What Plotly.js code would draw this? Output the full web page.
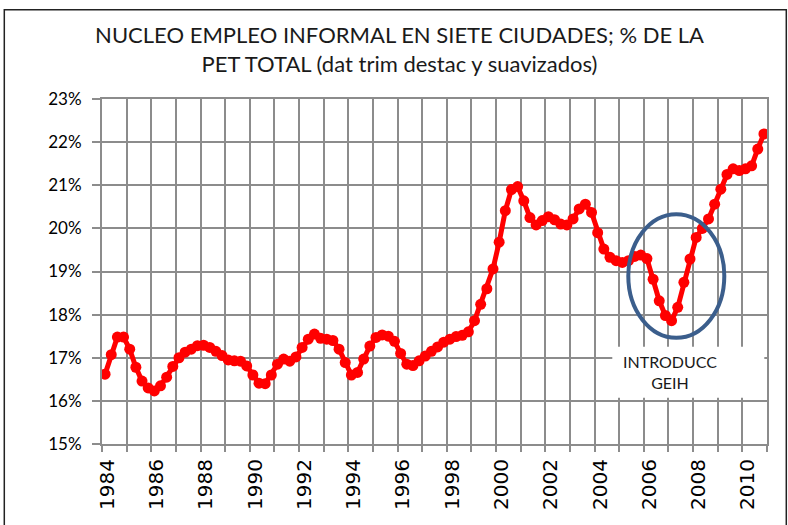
<!DOCTYPE html>
<html>
<head>
<meta charset="utf-8">
<script src="https://cdn.plot.ly/plotly-3.0.1.min.js"></script>
<style>html,body{margin:0;padding:0;background:#fff;}#chart{width:788px;height:525px;}</style>
</head>
<body>
<div id="chart"></div>
<script>
// Quarterly series, 1984Q1 .. 2010Q4 (% of PET)
const startYear = 1984;
const quartersPerYear = 4;
const informalShare = [
  16.62, 17.07, 17.48, 17.48,   // 1984
  17.20, 16.78, 16.46, 16.30,   // 1985
  16.23, 16.35, 16.55, 16.80,   // 1986
  17.00, 17.13, 17.20, 17.28,   // 1987
  17.29, 17.24, 17.15, 17.05,   // 1988
  16.95, 16.93, 16.92, 16.81,   // 1989
  16.60, 16.41, 16.40, 16.60,   // 1990
  16.85, 16.97, 16.92, 17.02,   // 1991
  17.24, 17.43, 17.55, 17.45,   // 1992
  17.43, 17.40, 17.20, 16.89,   // 1993
  16.60, 16.66, 16.97, 17.27,   // 1994
  17.47, 17.53, 17.50, 17.38,   // 1995
  17.10, 16.85, 16.82, 16.93,   // 1996
  17.04, 17.15, 17.25, 17.36,   // 1997
  17.43, 17.49, 17.52, 17.60,   // 1998
  17.86, 18.24, 18.60, 19.06,   // 1999
  19.68, 20.41, 20.90, 20.97,   // 2000
  20.64, 20.25, 20.08, 20.18,   // 2001
  20.27, 20.20, 20.10, 20.08,   // 2002
  20.22, 20.45, 20.56, 20.37,   // 2003
  19.90, 19.52, 19.33, 19.25,   // 2004
  19.21, 19.25, 19.35, 19.38,   // 2005
  19.30, 18.82, 18.32, 17.98,   // 2006
  17.86, 18.17, 18.75, 19.29,   // 2007
  19.79, 20.00, 20.22, 20.56,   // 2008
  20.91, 21.25, 21.38, 21.34,   // 2009
  21.38, 21.45, 21.84, 22.19    // 2010
];
const gridYears = [1984,1985,1986,1987,1988,1989,1990,1991,1992,1993,1994,1995,1996,1997,1998,1999,2000,2001,2002,2003,2004,2005,2006,2007,2008,2009,2010,2011];
const labelYears = [1984,1986,1988,1990,1992,1994,1996,1998,2000,2002,2004,2006,2008,2010];
const yTicks = [15,16,17,18,19,20,21,22,23];
const yTickText = ['15%','16%','17%','18%','19%','20%','21%','22%','23%'];
const titleText = 'NUCLEO EMPLEO INFORMAL EN SIETE CIUDADES; % DE LA<br>PET TOTAL (dat trim destac y suavizados)';
const noteText = 'INTRODUCC<br>GEIH';

// x position of each quarter: middle of the quarter on a year-scaled axis
const xq = informalShare.map((_, i) => startYear + (i + 0.5) / quartersPerYear);
const labelPos = labelYears.map(y => y + 0.22);
const labelText = labelYears.map(String);

const W = 788, H = 525;
const L = 101.7, R = 21.3, T = 98.5, B = 80.5;
const pw = W - L - R, ph = H - T - B;
const px2paperX = p => (p - L) / pw;
const px2paperY = p => (H - B - p) / ph;

const grid = '#8c8c8c';
const xRange = [1984, 2011];
const yRange = [15, 23];

const trace = {
  x: xq, y: informalShare, type: 'scatter', mode: 'lines+markers',
  line: {color: '#ff0000', width: 5},
  marker: {color: '#ff0000', size: 11},
  hoverinfo: 'skip', showlegend: false
};
// invisible helper trace that carries the tick labels on twin axes
const labelTrace = {
  x: [xRange[0]], y: [yRange[0]], xaxis: 'x2', yaxis: 'y2', type: 'scatter', mode: 'markers',
  marker: {opacity: 0}, hoverinfo: 'skip', showlegend: false
};

const layout = {
  width: W, height: H,
  margin: {l: L, r: R, t: T, b: B},
  paper_bgcolor: '#ffffff', plot_bgcolor: '#ffffff',
  title: {
    text: titleText,
    font: {family: 'Lato, "Open Sans", sans-serif', size: 22, color: '#1a1a1a'},
    x: 0.507, xanchor: 'center', y: 0.918, yanchor: 'top', yref: 'container'
  },
  xaxis: {
    type: 'linear', range: xRange,
    tickmode: 'array', tickvals: gridYears, showticklabels: false,
    showgrid: true, gridcolor: grid, gridwidth: 1.6,
    ticks: 'outside', ticklen: 6, tickcolor: grid, tickwidth: 1.6,
    showline: true, mirror: true, linecolor: grid, linewidth: 1.6,
    zeroline: false
  },
  xaxis2: {
    type: 'linear', range: xRange, overlaying: 'x', anchor: 'y2', side: 'bottom',
    tickmode: 'array', tickvals: labelPos, ticktext: labelText, tickangle: -90,
    showgrid: false, zeroline: false, showline: false,
    ticks: 'outside', ticklen: 6, tickcolor: 'rgba(0,0,0,0)',
    tickfont: {family: '"DejaVu Sans", sans-serif', size: 20, color: '#000'}
  },
  yaxis: {
    range: yRange, tickmode: 'array', tickvals: yTicks, showticklabels: false,
    showgrid: true, gridcolor: grid, gridwidth: 1.6,
    ticks: 'outside', ticklen: 8, tickcolor: grid, tickwidth: 1.6,
    showline: true, mirror: true, linecolor: grid, linewidth: 1.6,
    zeroline: false
  },
  yaxis2: {
    range: yRange, overlaying: 'y', anchor: 'x2', side: 'left',
    tickmode: 'array', tickvals: yTicks, ticktext: yTickText,
    showgrid: false, zeroline: false, showline: false,
    ticks: 'outside', ticklen: 16, tickcolor: 'rgba(0,0,0,0)',
    tickfont: {family: 'Lato, "Open Sans", sans-serif', size: 17, color: '#000'}
  },
  shapes: [
    {type: 'rect', xref: 'paper', yref: 'paper', layer: 'above',
     x0: px2paperX(612), x1: px2paperX(764), y0: px2paperY(398), y1: px2paperY(347),
     fillcolor: '#ffffff', line: {width: 0}},
    {type: 'circle', xref: 'paper', yref: 'paper', layer: 'above',
     x0: px2paperX(628), x1: px2paperX(724), y0: px2paperY(338), y1: px2paperY(214),
     line: {color: '#3b5e8c', width: 4}},
    {type: 'rect', xref: 'paper', yref: 'paper', layer: 'above',
     x0: px2paperX(4), x1: px2paperX(786), y0: px2paperY(535), y1: px2paperY(9),
     line: {color: '#222', width: 1.5}}
  ],
  annotations: [
    {xref: 'paper', yref: 'paper', x: px2paperX(670), y: px2paperY(372),
     xanchor: 'center', yanchor: 'middle', showarrow: false, text: noteText,
     align: 'center',
     font: {family: 'Lato, "Open Sans", sans-serif', size: 16, color: '#1a1a1a'}}
  ]
};

Plotly.newPlot('chart', [trace, labelTrace], layout, {displayModeBar: false});
</script>
</body>
</html>
